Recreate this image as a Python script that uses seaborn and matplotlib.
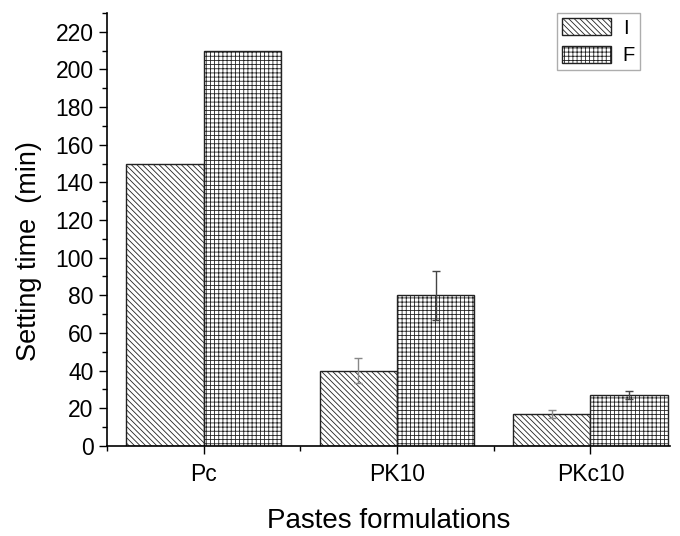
import pandas as pd
import matplotlib
matplotlib.use("Agg")
import matplotlib.pyplot as plt
from matplotlib.ticker import MultipleLocator, FixedLocator
import seaborn as sns

# values
pastes = ["Pc", "PK10", "PKc10"]
setting = ["I", "F"]
initial_time = [150, 40, 17]
final_time = [210, 80, 27]
initial_err = [0, 6.5, 2]
final_err = [0, 13, 2]


def build():
    df = pd.DataFrame({
        "paste": pastes * 2,
        "setting": ["I"] * 3 + ["F"] * 3,
        "time": initial_time + final_time,
        "err": initial_err + final_err,
    })
    return df


def plot(df):
    sns.set_style("ticks")
    plt.rcParams['font.family'] = ['Liberation Sans Narrow', 'Liberation Sans', 'DejaVu Sans']
    plt.rcParams['hatch.linewidth'] = 0.6
    # plain black text and axes
    for key in ["text.color", "axes.labelcolor", "xtick.color", "ytick.color", "axes.edgecolor"]:
        plt.rcParams[key] = "black"

    fig = plt.figure(figsize=(6.8, 5.36), dpi=100)
    ax = fig.add_axes([0.157, 0.168, 0.828, 0.808])

    sns.barplot(data=df, x="paste", y="time", hue="setting", order=pastes,
                hue_order=setting, palette=["white", "white"], edgecolor="#222222",
                linewidth=1.0, errorbar=None, legend=False, ax=ax)

    hatches = ["\\\\\\\\\\\\", "++++"]
    err_colors = ["#888888", "#444444"]
    for cont, h, lvl, ec in zip(ax.containers, hatches, setting, err_colors):
        sub = df[df.setting == lvl].set_index("paste").loc[pastes]
        for bar, (_, row) in zip(cont.patches, sub.iterrows()):
            bar.set_hatch(h)
            if row.err > 0:
                ax.errorbar(bar.get_x() + bar.get_width() / 2, row.time, yerr=row.err,
                            fmt="none", ecolor=ec, elinewidth=1.0, capsize=3, capthick=1.0)

    ax.set_ylim(0, 230)
    ax.set_xlim(-0.5, 2.41)
    ax.yaxis.set_major_locator(MultipleLocator(20))
    ax.yaxis.set_minor_locator(MultipleLocator(10))
    ax.xaxis.set_minor_locator(FixedLocator([-0.5, 0.5, 1.5]))
    ax.tick_params(axis="both", which="major", labelsize=16.5, length=6, width=1)
    ax.tick_params(axis="x", which="major", pad=6)
    ax.tick_params(axis="both", which="minor", length=3.5, width=1)
    sns.despine(ax=ax)
    for s in ["left", "bottom"]:
        ax.spines[s].set_linewidth(1.2)

    ax.set_ylabel("Setting time  (min)", fontsize=19.5)
    ax.yaxis.set_label_coords(-0.115, 0.45)
    ax.set_xlabel("Pastes formulations", fontsize=20, labelpad=16)

    leg = ax.legend(ax.containers, setting, loc="upper right", bbox_to_anchor=(0.947, 1.0),
                    fontsize=14.5, frameon=True, fancybox=False, handlelength=2.4,
                    handleheight=0.95, borderpad=0.25, labelspacing=0.4, handletextpad=0.6,
                    borderaxespad=0.0)
    leg.get_frame().set_edgecolor("#999999")
    leg.get_frame().set_linewidth(1.0)

    fig.savefig("out.png", dpi=100)


if __name__ == "__main__":
    df = build()
    plot(df)
